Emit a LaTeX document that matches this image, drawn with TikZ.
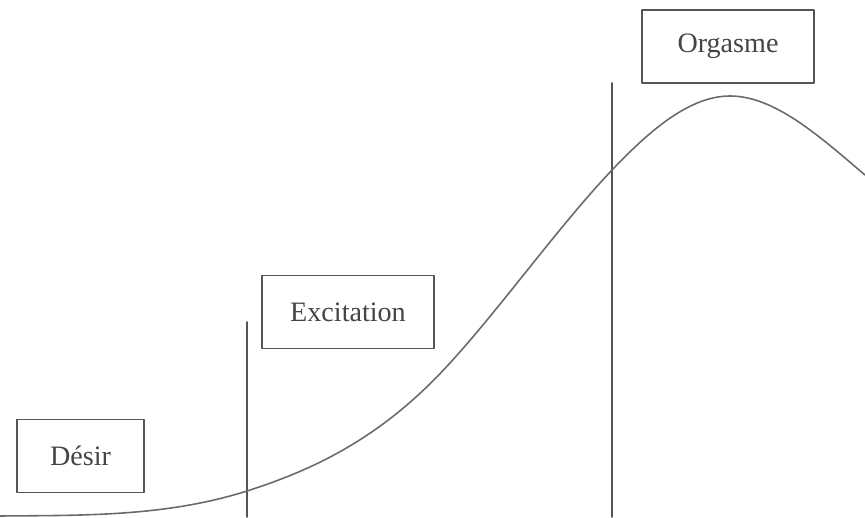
\documentclass[tikz,border=0pt]{standalone}
\usepackage{fontspec}
\setmainfont{Liberation Serif}
\definecolor{ink}{HTML}{444444}
\definecolor{edge}{HTML}{555555}
\definecolor{curve}{HTML}{6A6A6A}

\begin{document}
\begin{tikzpicture}[x=0.02cm,y=-0.02cm,font=\fontsize{16}{19}\selectfont,line cap=round,line join=round]
  \tikzset{phase/.style={draw=edge,line width=1pt,text=ink,minimum height=1.46cm,inner sep=0pt}}
  \useasboundingbox (0,0) rectangle (865,517);

  % phase labels
  \node[phase,minimum width=2.54cm] (desir) at (80.5,456) {Désir};
  \node[phase,minimum width=3.44cm] (excit) at (348,312) {Excitation};
  \node[phase,minimum width=3.44cm] (orgas) at (728,46.5) {Orgasme};

  % phase limits
  \draw[edge,line width=1pt] (247,322)--(247,517);
  \draw[edge,line width=1pt] (612,83)--(612,517);

  % response curve
  \draw[curve,line width=0.9pt] (0,516)
    .. controls (82.3,515.2) and (164.7,517) .. (247,491)
    .. controls (314.7,469.3) and (382.3,437.5) .. (450,363)
    .. controls (504.3,303.3) and (558.7,226) .. (613,169)
    .. controls (652,128) and (691,96) .. (730,96)
    .. controls (775,96) and (820,136.8) .. (865,175);
\end{tikzpicture}
\end{document}
